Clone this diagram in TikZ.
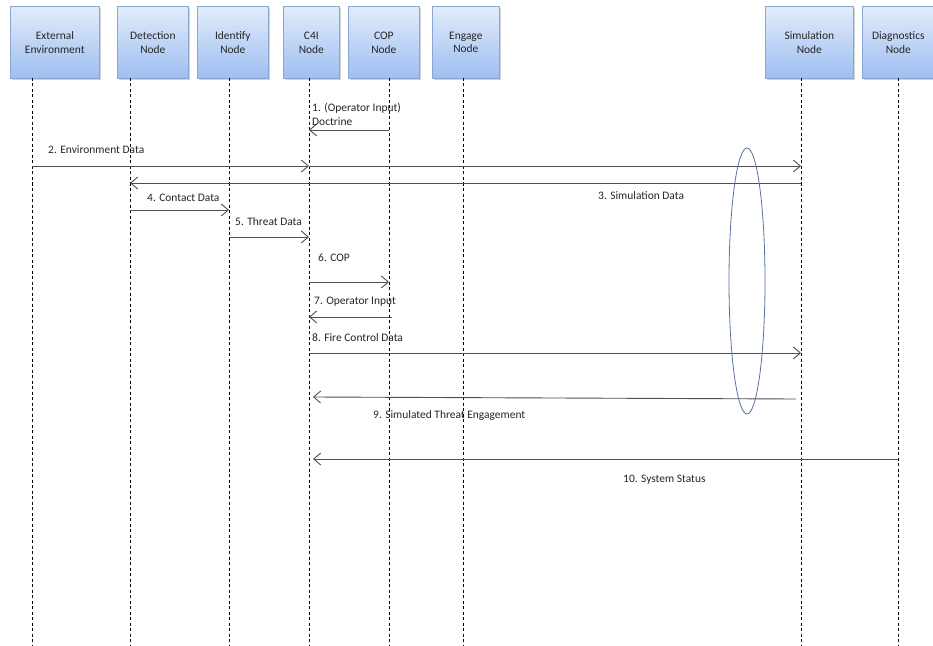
\documentclass[tikz,border=0pt]{standalone}
\usepackage{fontspec}
\setmainfont{Carlito}
\usetikzlibrary{arrows.meta,shadows}
\definecolor{boxtop}{HTML}{E2ECFB}
\definecolor{boxbot}{HTML}{9EBEF1}
\definecolor{boxline}{HTML}{8BA6D3}
\definecolor{msgline}{HTML}{505050}
\definecolor{loopline}{HTML}{5872A3}
\tikzset{
  actor/.style={draw=boxline, line width=0.7bp, top color=boxtop, bottom color=boxbot,
    minimum height=72bp, inner sep=0pt, align=center, anchor=north west,
    font=\fontsize{11.5}{14}\selectfont, text=black!85,
    drop shadow={shadow xshift=1.5bp, shadow yshift=-1.5bp, fill=black!35, opacity=0.5}},
  lifeline/.style={draw=black, line width=0.8bp, dash pattern=on 3bp off 2.5bp},
  msg/.style={draw=msgline, line width=0.9bp, -{Straight Barb[length=7bp,width=12bp,line width=0.9bp]}},
  lbl/.style={anchor=west, inner sep=0pt, font=\fontsize{11.5}{14}\selectfont, text=black!85, align=left}
}
\begin{document}
\begin{tikzpicture}[x=1bp,y=-1bp]
\useasboundingbox[fill=white] (0,0) rectangle (933,646);

% actor boxes
\node[actor, minimum width=89bp] (ext) at (10,6) {External\\Environment};
\node[actor, minimum width=71bp] (det) at (117,6) {Detection\\Node};
\node[actor, minimum width=71bp] (ide) at (197,6) {Identify\\Node};
\node[actor, minimum width=56bp] (c4i) at (283,6) {C4I\\Node};
\node[actor, minimum width=71bp] (cop) at (348,6) {COP\\Node};
\node[actor, minimum width=67bp] (eng) at (432,6) {Engage\\Node};
\node[actor, minimum width=88bp] (sim) at (765,6) {Simulation\\Node};
\node[actor, minimum width=72bp] (dia) at (862,6) {Diagnostics\\Node};

% lifeline tops and bottoms
\foreach \n/\x in {ext/32, det/130, ide/229, c4i/309, cop/389, eng/463, sim/801, dia/898} {
  \coordinate (\n L) at (\x,78);
  \coordinate (\n E) at (\x,646);
  \draw[lifeline] (\n L) -- (\n E);
}

% 1. operator input / doctrine
\draw[msg] (copL |- 0,130) -- (c4iL |- 0,130);
\node[lbl] (l1) at (312,114) {1. (Operator Input)\\Doctrine};

% 2. environment data
\draw[msg] (extL |- 0,166) -- (c4iL |- 0,166);
\draw[msg] (c4iL |- 0,166) -- (simL |- 0,166);
\node[lbl] (l2) at (48,150) {2. Environment Data};

% 3. simulation data
\draw[msg] (simL |- 0,183) -- (detL |- 0,183);
\node[lbl] (l3) at (598,196) {3. Simulation Data};

% 4. contact data
\draw[msg] (detL |- 0,210) -- (ideL |- 0,210);
\node[lbl] (l4) at (147,198) {4. Contact Data};

% 5. threat data
\draw[msg] (ideL |- 0,237) -- (c4iL |- 0,237);
\node[lbl] (l5) at (235,222) {5. Threat Data};

% 6. COP
\draw[msg] (c4iL |- 0,282) -- (copL |- 0,282);
\node[lbl] (l6) at (318,258) {6. COP};

% 7. operator input
\coordinate (m7s) at (392,317);
\draw[msg] (m7s) -- (c4iL |- 0,317);
\node[lbl] (l7) at (314,302) {7. Operator Input};

% 8. fire control data
\draw[msg] (c4iL |- 0,353) -- (simL |- 0,353);
\node[lbl] (l8) at (312,338) {8. Fire Control Data};

% 9. simulated threat engagement
\coordinate (m9s) at (796,399);
\coordinate (m9e) at (313,397);
\draw[msg] (m9s) -- (m9e);
\node[lbl] (l9) at (373,416) {9. Simulated Threat Engagement};

% 10. system status
\coordinate (m10e) at (313,459);
\draw[msg] (diaL |- 0,459) -- (m10e);
\node[lbl] (l10) at (623,480) {10. System Status};

% simulation loop
\draw[loopline, line width=0.8bp] (747,281) ellipse [x radius=18, y radius=133];
\end{tikzpicture}
\end{document}
